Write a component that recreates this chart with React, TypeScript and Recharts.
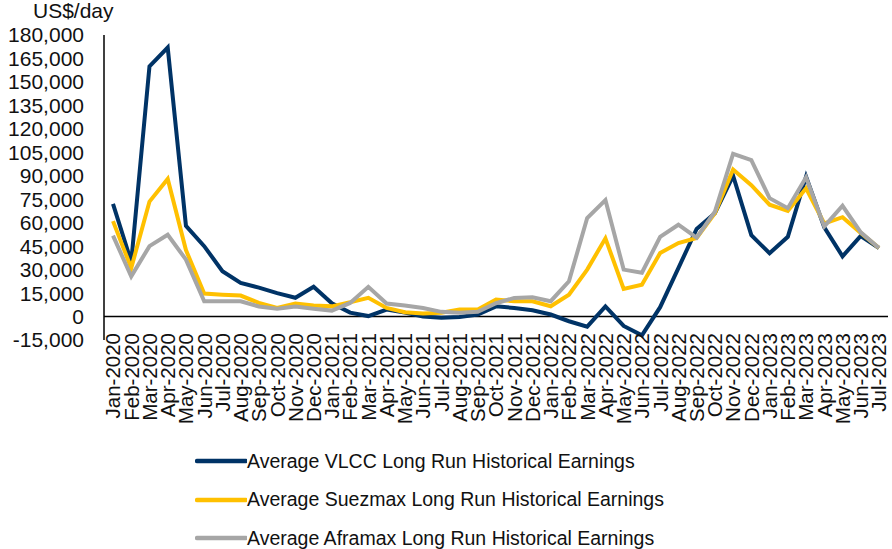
import { Legend, Line, LineChart, ReferenceLine, XAxis, YAxis } from "recharts";

const months = [
  "Jan-2020", "Feb-2020", "Mar-2020", "Apr-2020", "May-2020", "Jun-2020", "Jul-2020", "Aug-2020", "Sep-2020", "Oct-2020", "Nov-2020", "Dec-2020",
  "Jan-2021", "Feb-2021", "Mar-2021", "Apr-2021", "May-2021", "Jun-2021", "Jul-2021", "Aug-2021", "Sep-2021", "Oct-2021", "Nov-2021", "Dec-2021",
  "Jan-2022", "Feb-2022", "Mar-2022", "Apr-2022", "May-2022", "Jun-2022", "Jul-2022", "Aug-2022", "Sep-2022", "Oct-2022", "Nov-2022", "Dec-2022",
  "Jan-2023", "Feb-2023", "Mar-2023", "Apr-2023", "May-2023", "Jun-2023", "Jul-2023",
];

const vlcc = [
  72000, 35000, 160000, 172000, 58000, 45000, 29000, 21500, 18500, 15000, 12000, 19000,
  8500, 2500, 300, 4500, 2500, 0, -800, -300, 1300, 6500, 5500, 4000,
  1300, -3000, -6500, 6500, -6000, -12000, 6000, 31000, 56000, 66000, 90000, 52000,
  40500, 51000, 89500, 57000, 38500, 51500, 43800,
];

const suezmax = [
  61000, 31000, 73500, 88000, 42500, 14700, 14000, 13400, 8700, 5500, 8300, 7000,
  6500, 9100, 12000, 5500, 2800, 2000, 2400, 4500, 4500, 10800, 9800, 9800,
  6600, 14000, 30000, 50000, 17700, 20400, 40600, 47000, 50200, 66000, 94000, 84000,
  71500, 67500, 82000, 59500, 63500, 53500, 43800,
];

const aframax = [
  51700, 25700, 45000, 52300, 36400, 9800, 9800, 9800, 6400, 5000, 6400, 5000,
  3800, 8700, 19000, 8300, 7000, 5500, 3000, 2400, 3000, 8500, 11900, 12300,
  9800, 22500, 63000, 74500, 30000, 28000, 51000, 58700, 50400, 67000, 104000, 100000,
  75700, 69300, 89000, 57600, 70800, 53800, 43800,
];

const yTicks = [-15000, 0, 15000, 30000, 45000, 60000, 75000, 90000, 105000, 120000, 135000, 150000, 165000, 180000];

const series = [
  { key: "vlcc", name: "Average VLCC Long Run Historical Earnings", color: "#003366" },
  { key: "suezmax", name: "Average Suezmax Long Run Historical Earnings", color: "#FFC000" },
  { key: "aframax", name: "Average Aframax Long Run Historical Earnings", color: "#A6A6A6" },
];

const data = months.map((m, i) => ({ month: m, vlcc: vlcc[i], suezmax: suezmax[i], aframax: aframax[i] }));

const FONT = "'Liberation Sans', Arial, sans-serif";

function MonthTick({ x, y, payload }: any) {
  return (
    <text
      x={x}
      y={y - 7}
      dy="0.36em"
      transform={`rotate(-90 ${x} ${y - 7})`}
      textAnchor="end"
      fontSize={20.5}
      fontFamily={FONT}
      fill="#111"
    >
      {payload.value}
    </text>
  );
}

function LegendRows() {
  return (
    <div style={{ fontFamily: FONT, fontSize: 19.5, color: "#111" }}>
      {series.map((s) => (
        <div key={s.key} style={{ display: "flex", alignItems: "center", height: 38.5 }}>
          <svg width={52} height={8} style={{ display: "block" }}>
            <line x1={2} y1={4} x2={51} y2={4} stroke={s.color} strokeWidth={4.5} strokeLinecap="round" />
          </svg>
          <span style={{ whiteSpace: "nowrap" }}>{s.name}</span>
        </div>
      ))}
    </div>
  );
}

export default function App() {
  return (
    <div style={{ position: "absolute", left: 0, top: 0, width: 892, height: 549, background: "#fff" }}>
      <LineChart width={892} height={549} data={data} margin={{ top: 35, right: 4, left: 0, bottom: 109 }}>
        <XAxis
          dataKey="month"
          interval={0}
          height={100}
          axisLine={false}
          tickLine={false}
          tickSize={0}
          tickMargin={0}
          padding={{ left: 9, right: 9 }}
          tick={<MonthTick />}
        />
        <YAxis
          width={104}
          domain={[-15000, 180000]}
          ticks={yTicks}
          interval={0}
          tickLine={false}
          tickSize={0}
          tickMargin={20}
          axisLine={{ stroke: "#000", strokeWidth: 1.5 }}
          tick={{ fontSize: 21, fontFamily: FONT, fill: "#111" }}
          tickFormatter={(v: number) => v.toLocaleString("en-US")}
        />
        <ReferenceLine y={0} stroke="#000" strokeWidth={1.5} />
        {series.map((s) => (
          <Line
            key={s.key}
            type="linear"
            dataKey={s.key}
            name={s.name}
            stroke={s.color}
            strokeWidth={4}
            dot={false}
            isAnimationActive={false}
          />
        ))}
        <Legend
          layout="vertical"
          align="center"
          verticalAlign="middle"
          wrapperStyle={{ left: 195, top: 442, width: 520 }}
          content={<LegendRows />}
        />
      </LineChart>
      <div style={{ position: "absolute", left: 33, top: 0, fontFamily: FONT, fontSize: 21, lineHeight: "22px", color: "#111" }}>US$/day</div>
    </div>
  );
}
